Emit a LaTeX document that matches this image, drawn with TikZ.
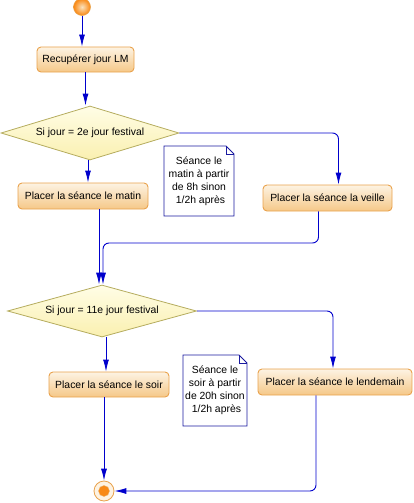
\documentclass[tikz,border=0pt]{standalone}
\usepackage{fontspec}
\setmainfont{Liberation Sans}
\usetikzlibrary{shapes.geometric,arrows.meta,calc}
\definecolor{arrblue}{HTML}{0000CC}
\definecolor{boxtop}{HTML}{FDF3E3}
\definecolor{boxbot}{HTML}{F5C888}
\definecolor{boxline}{HTML}{E9A24C}
\definecolor{dtop}{HTML}{FFFDE6}
\definecolor{dbot}{HTML}{FAF0B0}
\definecolor{dline}{HTML}{B5AC5E}
\definecolor{noteline}{HTML}{1A1AA0}
\begin{document}
\begin{tikzpicture}[x=1pt,y=-1pt,
  font=\fontsize{10.4}{13}\selectfont,
  activity/.style={draw=boxline,line width=0.9pt,rounded corners=4pt,top color=boxtop,bottom color=boxbot,inner sep=0pt,align=center},
  decision/.style={shape=diamond,aspect=3.4,draw=dline,line width=0.8pt,top color=dtop,bottom color=dbot,inner sep=0pt,align=center},
  notebox/.style={inner sep=0pt,align=center,minimum width=70pt},
  arr/.style={draw=arrblue,line width=0.9pt,rounded corners=6pt,-{Latex[length=12pt,width=6pt]}},
  notedraw/.style={draw=noteline,line width=0.8pt,fill=white}
]
\useasboundingbox (0,0) rectangle (413,503);

% start
\node[circle,draw=boxline,line width=0.6pt,inner color=boxtop!60!boxbot,outer color=orange!80!boxline,minimum size=17pt,inner sep=0pt] (start) at (82,7) {};

% activities
\node[activity,minimum width=97pt,minimum height=25pt] (b1) at (85.5,59.5) {Recupérer jour LM};
\node[decision,minimum width=178pt,minimum height=54pt] (d1) at (90,133) {Si jour = 2e jour festival};
\node[activity,minimum width=130pt,minimum height=26pt] (bm) at (83,196) {Placer la séance le matin};
\node[activity,minimum width=129pt,minimum height=26pt] (bv) at (327.5,198) {Placer la séance la veille};
\node[decision,minimum width=189pt,minimum height=52pt] (d2) at (102,311) {Si jour = 11e jour festival};
\node[activity,minimum width=120pt,minimum height=25pt] (bs) at (109,384.5) {Placer la séance le soir};
\node[activity,minimum width=154pt,minimum height=26pt] (bl) at (335,382) {Placer la séance le lendemain};

% end
\node[circle,draw=boxline,line width=0.8pt,fill=boxtop,minimum size=20pt,inner sep=0pt] (end) at (104,491) {};
\node[circle,fill=orange!70!boxline,draw=boxline!80!white,line width=0.4pt,minimum size=11pt,inner sep=0pt] (endin) at (end) {};

% notes
\path[notedraw] (164,146) -- (226,146) -- (234,154) -- (234,216) -- (164,216) -- cycle;
\draw[noteline,line width=0.6pt] (226,146) -- (226,154) -- (234,154);
\node[notebox] (n1) at (199,181) {Séance le\\matin à partir\\de 8h sinon\\\ 1/2h après};
\path[notedraw] (183,355) -- (239,355) -- (247,363) -- (247,426) -- (183,426) -- cycle;
\draw[noteline,line width=0.6pt] (239,355) -- (239,363) -- (247,363);
\node[notebox,minimum width=64pt] (n2) at (215,390.5) {Séance le\\soir à partir\\de 20h sinon\\\ 1/2h après};

% connectors
\coordinate (j1) at (103,243);
\draw[arr] (start.south) -- (start.south |- b1.north);
\draw[arr] (b1.south) -- (b1.south |- d1.north);
\draw[arr] ([xshift=-2pt]d1.south) -- ([xshift=-2pt]d1.south |- bm.north);
\draw[arr] (d1.east) -| ([xshift=11pt]bv.north);
\draw[arr] ([xshift=16pt]bm.south) -- ([xshift=16pt]bm.south |- d2.north);
\draw[arr] ([xshift=-9pt]bv.south) |- (j1) -- (j1 |- d2.north);
\draw[arr] ([xshift=4pt]d2.south) -- ([xshift=4pt]d2.south |- bs.north);
\draw[arr] (d2.east) -| ([xshift=-2pt]bl.north);
\draw[arr] (end.north |- bs.south) -- (end.north);
\draw[arr] ([xshift=-19pt]bl.south) |- (end.east);
\end{tikzpicture}
\end{document}
